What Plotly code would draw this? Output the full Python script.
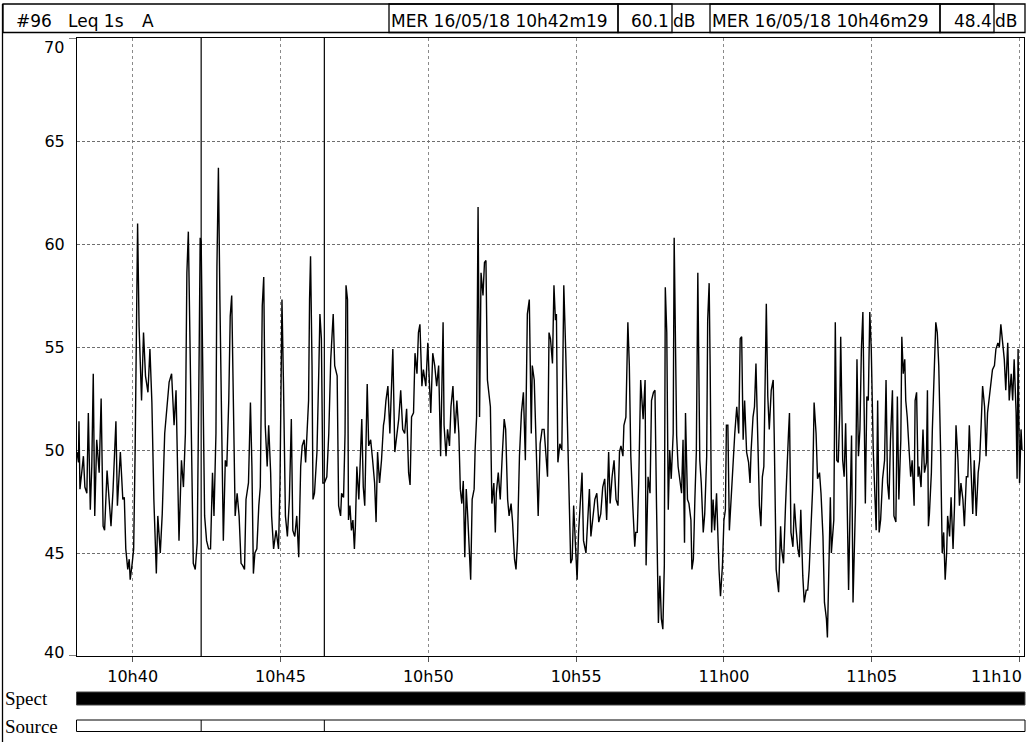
import plotly.graph_objects as go
import pandas as pd

# ---------------- data ----------------
BASE_TIME = "2018-05-16 10:40:00"
X_START = "2018-05-16 10:38:07"
X_END = "2018-05-16 11:10:09"

# seconds relative to 10h40m00
SECONDS = [
    -113, -110, -109, -107, -103, -100, -97, -93, -90, -86, -83, -80, -77, -73, -68, -64, -60, -57, -52, -48,
    -44, -40, -34, -31, -25, -20, -17, -14, -10, -7, -5, -1, 2, 5, 10, 13, 18, 22, 26, 31,
    35, 39, 43, 48, 51, 56, 60, 65, 69, 74, 79, 84, 88, 90, 94, 99, 103, 107, 110, 113,
    116, 119, 123, 127, 131, 135, 137, 139, 144, 146, 150, 154, 158, 162, 165, 169, 171, 174, 177, 180,
    184, 188, 191, 195, 198, 201, 205, 208, 212, 216, 220, 223, 227, 230, 235, 239, 242, 245, 248, 252,
    256, 259, 263, 266, 269, 273, 276, 280, 282, 286, 291, 296, 299, 303, 306, 310, 314, 318, 322, 325,
    329, 333, 337, 341, 344, 348, 351, 354, 357, 359, 361, 364, 366, 369, 374, 378, 380, 383, 386, 389,
    394, 398, 402, 407, 410,
    415, 418, 422, 424, 428, 431, 433, 436, 438, 441, 444, 447, 450, 452, 455, 459, 465, 468, 471, 476,
    479, 483, 487, 491, 494, 497, 501, 505, 509, 511, 514, 518, 522, 525, 528, 532, 536, 540, 544, 548,
    552, 556, 560, 563, 566, 570, 573, 577, 580, 583, 587, 590, 595, 599, 602, 605, 609, 613, 617, 621,
    625, 630, 632, 636, 639, 643, 646, 650, 654, 658, 662, 665, 668, 671, 674, 677, 680, 683, 686, 689,
    693, 695, 698, 701, 704, 707, 711, 714, 717, 720, 723, 726, 729, 733, 736, 738, 742, 746, 750, 754,
    757, 761, 764, 768, 771, 775, 778, 781, 785, 789, 793, 797, 801, 805, 809, 811, 815, 819, 823, 827,
    831, 835, 839, 842, 845, 848, 852, 855, 858, 860, 863, 867, 871, 875, 879, 882, 885, 889, 892, 895,
    899, 902, 905, 909, 912, 915, 920, 924, 927, 930, 934, 938, 942, 946, 950, 954, 958, 962, 966, 969,
    973, 977, 981, 985, 988, 991, 995, 997, 1001, 1005, 1008, 1011, 1015, 1019, 1021, 1024, 1027, 1031,
    1036, 1040, 1042, 1046, 1050, 1053, 1057, 1060, 1063, 1067, 1070, 1073, 1076, 1079, 1081, 1084, 1087, 1090, 1093, 1097,
    1099, 1102, 1104, 1107, 1110, 1114, 1117, 1120, 1122, 1126, 1129, 1133, 1135, 1138, 1141, 1144, 1147, 1151, 1154, 1158,
    1161, 1165, 1167, 1170, 1172, 1175, 1178, 1181, 1185, 1187, 1190, 1193, 1197, 1200, 1203, 1205, 1208, 1211, 1215, 1218,
    1222, 1226, 1230, 1233, 1236, 1239, 1242, 1246, 1250, 1253, 1255, 1259, 1262, 1265, 1269, 1272, 1275, 1278, 1281, 1284,
    1286, 1289, 1292, 1296, 1300, 1302, 1306, 1311, 1315, 1317, 1321, 1325, 1328, 1331, 1333, 1336, 1340, 1343, 1346, 1350,
    1353, 1356, 1360, 1363, 1367, 1370, 1373, 1377, 1380, 1383, 1387, 1390, 1394, 1397, 1401, 1404, 1408, 1410, 1413, 1416,
    1418, 1423, 1426, 1429, 1432, 1435, 1437, 1441, 1444, 1447, 1450, 1453, 1456, 1459, 1462, 1464, 1467, 1470, 1473, 1476,
    1479, 1482, 1485, 1487, 1490, 1493, 1496, 1499, 1503, 1506, 1509, 1512, 1515, 1518, 1522, 1526, 1529, 1532, 1535, 1538,
    1542, 1545, 1549, 1552, 1555, 1559, 1561, 1564, 1567, 1569, 1572, 1576, 1579, 1582, 1586, 1588, 1591, 1594, 1596, 1600,
    1604, 1607, 1611, 1613, 1615, 1617, 1621, 1623, 1626, 1630, 1633, 1636, 1640, 1643, 1646, 1649, 1652, 1654, 1658, 1661,
    1665, 1668, 1671, 1675, 1678, 1681, 1685, 1688, 1692, 1695, 1698, 1702, 1705, 1708, 1712, 1716, 1719, 1722, 1725, 1729,
    1732, 1735, 1739, 1742, 1745, 1749, 1752, 1756, 1759, 1762, 1766, 1769, 1772, 1776, 1779, 1783, 1786, 1789, 1793, 1795,
    1797, 1800, 1803, 1805,
]

LEQ_DB = [
    49.9, 49.4, 51.4, 48.1, 49.0, 49.7, 48.2, 47.9, 51.8, 47.1, 49.2, 53.7, 46.8, 50.5, 48.9, 52.5, 46.3, 46.1, 49.0, 47.6,
    46.3, 48.0, 51.4, 47.3, 49.9, 47.6, 47.7, 45.2, 44.2, 44.7, 43.7, 44.5, 45.2, 50.0, 61.0, 56.0, 52.4, 55.7, 53.6, 52.8,
    54.9, 52.3, 47.6, 44.0, 46.8, 45.0, 46.9, 50.8, 52.1, 53.3, 53.7, 51.2, 52.9, 49.7, 45.6, 49.5, 48.2, 50.8, 58.6, 60.6,
    55.7, 50.8, 44.5, 44.2, 45.5, 54.9, 60.3, 60.1, 49.2, 46.8, 45.6, 45.2, 45.2, 48.9, 46.8, 50.8, 58.9, 63.7, 57.3, 52.1,
    45.6, 49.5, 49.2, 52.4, 56.5, 57.5, 50.8, 46.8, 47.9, 46.8, 44.5, 44.4, 44.2, 47.6, 48.4, 52.3, 49.2, 44.0, 45.0, 45.2,
    47.3, 48.2, 57.0, 58.4, 51.2, 49.2, 51.2, 48.9, 46.8, 45.2, 46.1, 45.2, 48.4, 57.3, 53.3, 46.8, 45.8, 47.6, 51.5, 46.1,
    45.8, 46.8, 44.8, 49.2, 50.2, 50.5, 49.4, 50.8, 52.4, 57.3, 59.4, 54.1, 47.6, 47.9, 49.9, 54.1, 56.6, 55.4, 48.4, 48.4,
    48.7, 50.8, 54.4, 56.6, 54.1,
    53.6, 47.3, 46.8, 47.9, 47.7, 50.8, 58.0, 57.3, 46.6, 47.3, 46.1, 46.6, 45.2, 46.3, 49.2, 47.6, 51.5, 48.2, 47.3, 53.2,
    50.2, 50.5, 49.5, 48.4, 46.5, 49.9, 48.4, 49.5, 51.2, 51.5, 52.4, 53.1, 50.8, 53.4, 54.9, 49.9, 50.8, 51.5, 52.9, 51.0,
    50.8, 52.0, 48.9, 48.3, 51.6, 51.8, 54.7, 53.7, 55.7, 56.1, 53.1, 53.9, 53.1, 55.2, 53.4, 51.8, 54.7, 54.1, 53.1, 54.1,
    49.7, 56.2, 51.2, 49.7, 51.0, 50.2, 52.1, 53.1, 50.8, 52.4, 50.8, 48.1, 47.4, 48.5, 44.8, 48.1, 46.8, 45.3, 43.7, 47.6,
    48.1, 50.0, 51.6, 61.8, 51.6, 58.6, 57.5, 59.1, 59.2, 53.4, 52.8, 52.1, 47.4, 48.4, 46.0, 47.9, 48.9, 47.6, 49.7, 51.5,
    51.0, 47.6, 46.8, 47.4, 46.5, 44.7, 44.2, 45.6, 49.7, 51.8, 52.8, 49.5, 56.6, 57.3, 50.8, 54.1, 53.4, 49.5, 46.8, 50.3,
    51.0, 51.0, 49.4, 48.7, 55.7, 55.4, 54.2, 58.0, 56.3, 56.6, 49.4, 50.3, 50.0, 58.0, 54.7, 51.5, 48.6, 44.5, 44.7, 47.3,
    45.2, 43.7, 46.0, 47.6, 48.9, 45.6, 45.0, 46.8, 48.1, 45.8, 46.8, 47.6, 47.9, 46.5, 46.9, 48.2, 48.6, 46.6, 49.9, 47.4,
    48.7, 49.5, 47.6, 47.3, 49.9, 50.2, 49.7, 51.2, 51.6, 56.2, 54.1, 49.7, 47.3, 45.3, 46.0, 46.0, 48.4, 53.4,
    51.5, 53.4, 44.4, 48.7, 47.9, 52.4, 52.8, 52.9, 47.6, 41.6, 43.9, 41.8, 41.3, 44.4, 57.9, 55.7, 47.1, 50.0, 48.6, 50.8,
    60.3, 54.1, 50.7, 49.2, 48.7, 47.9, 50.5, 45.5, 51.8, 47.6, 47.4, 46.6, 44.2, 44.7, 47.6, 49.9, 58.6, 49.5, 48.4, 46.0,
    46.9, 49.7, 56.3, 58.1, 54.1, 46.0, 47.6, 46.1, 47.9, 46.0, 44.2, 42.9, 44.4, 46.6, 47.1, 51.2, 51.2, 46.1, 47.9, 49.4,
    50.8, 52.1, 50.8, 55.4, 55.5, 50.5, 52.4, 49.9, 49.4, 48.4, 49.9, 51.6, 52.1, 54.2, 50.5, 47.3, 46.3, 48.7, 49.2, 53.3,
    57.1, 52.6, 51.0, 52.9, 53.4, 50.8, 44.2, 43.1, 46.3, 45.2, 44.5, 47.3, 49.5, 50.8, 51.8, 46.0, 45.3, 47.4, 46.3, 45.2,
    44.8, 47.1, 43.9, 42.6, 43.2, 43.2, 44.2, 46.8, 48.1, 52.3, 50.8, 48.6, 48.9, 47.9, 45.8, 42.6, 41.8, 40.9, 45.0, 47.7,
    45.0, 46.6, 56.2, 49.5, 49.4, 51.8, 55.5, 49.5, 48.7, 51.3, 47.6, 43.2, 47.1, 50.7, 42.6, 45.0, 47.4, 54.4, 49.7, 51.0,
    54.9, 56.7, 50.2, 47.4, 52.6, 52.4, 56.7, 54.9, 50.0, 48.4, 46.1, 52.4, 46.0, 46.6, 48.6, 49.5, 53.4, 48.4, 47.6, 50.5,
    52.9, 46.8, 46.5, 52.6, 47.6, 50.5, 55.5, 53.7, 54.4, 52.4, 51.6, 49.9, 48.7, 49.5, 47.3, 52.4, 52.8, 48.7, 49.2, 48.2,
    51.0, 48.9, 49.4, 52.9, 46.3, 46.9, 48.9, 51.0, 53.7, 56.2, 55.7, 54.1, 49.7, 45.0, 46.0, 43.7, 45.0, 46.8, 45.8, 47.7,
    45.2, 47.3, 51.2, 49.5, 47.3, 48.4, 47.6, 46.3, 48.7, 48.7, 51.2, 48.9, 46.9, 49.5, 46.8, 48.9, 49.5, 51.2, 53.1, 52.1,
    49.7, 51.8, 52.6, 53.1, 53.9, 54.1, 54.9, 55.2, 55.0, 56.1, 55.2, 54.4, 52.9, 55.2, 52.4, 53.7, 52.4, 54.4, 51.8, 48.6,
    54.9, 48.4, 51.0, 50.0,
]

CURSOR_TIMES = ["2018-05-16 10:42:19", "2018-05-16 10:46:29"]
CURSOR_LABELS = ["MER 16/05/18 10h42m19", "MER 16/05/18 10h46m29"]
CURSOR_VALUES = [60.1, 48.4]
UNIT = "dB"

X_TICKS = ["2018-05-16 10:40", "2018-05-16 10:45", "2018-05-16 10:50", "2018-05-16 10:55",
           "2018-05-16 11:00", "2018-05-16 11:05", "2018-05-16 11:10"]
X_TICK_LABELS = ["10h40", "10h45", "10h50", "10h55", "11h00", "11h05", "11h10"]
Y_TICKS = [45, 50, 55, 60, 65]
Y_MIN, Y_MAX = 40, 70

TITLE_ID = "#96"
TITLE_METRIC = "Leq 1s"
TITLE_WEIGHT = "A"
ROW_LABELS = ["Spect", "Source"]

# ---------------- layout geometry (pixels) ----------------
W, H = 1027, 742
L, R, T, B = 77, 3, 38, 86
PW = W - L - R
PH = H - T - B
BOTTOM = H - B


def px(X):
    return (X - L) / PW


def py(Y):
    return (BOTTOM - Y) / PH


SANS = "DejaVu Sans"
SERIF = "Liberation Serif"

times = pd.Timestamp(BASE_TIME) + pd.to_timedelta(SECONDS, unit="s")

fig = go.Figure()
fig.add_trace(go.Scatter(
    x=times, y=LEQ_DB, mode="lines",
    line=dict(color="black", width=1.4),
    hoverinfo="skip", showlegend=False,
))

shapes = []
# header frame and outer left border
shapes.append(dict(type="rect", xref="paper", yref="paper",
                   x0=px(3), x1=px(1025), y0=py(32.5), y1=py(4),
                   line=dict(color="black", width=1.3)))
shapes.append(dict(type="line", xref="paper", yref="paper",
                   x0=px(2.5), x1=px(2.5), y0=py(742), y1=py(4),
                   line=dict(color="black", width=1.3)))
for x0, x1 in [(389, 618), (618, 672), (710, 940), (940, 994)]:
    shapes.append(dict(type="rect", xref="paper", yref="paper",
                       x0=px(x0), x1=px(x1), y0=py(32.5), y1=py(4),
                       line=dict(color="black", width=1.3)))

# Spect and Source bars
shapes.append(dict(type="rect", xref="paper", yref="paper",
                   x0=px(76.5), x1=px(1025), y0=py(705), y1=py(692),
                   fillcolor="black", line=dict(color="#444", width=1)))
shapes.append(dict(type="rect", xref="paper", yref="paper",
                   x0=px(76.5), x1=px(1025), y0=py(731.5), y1=py(720),
                   fillcolor="white", line=dict(color="black", width=1)))

# cursors (in plot and in Source bar)
for t in CURSOR_TIMES:
    shapes.append(dict(type="line", xref="x", yref="paper", x0=t, x1=t, y0=0, y1=1,
                       line=dict(color="black", width=1.2), layer="above"))
    shapes.append(dict(type="line", xref="x", yref="paper", x0=t, x1=t,
                       y0=py(731.5), y1=py(720),
                       line=dict(color="black", width=1)))

# small corner ticks at 70 and 40
for yv in (Y_MIN, Y_MAX):
    shapes.append(dict(type="line", xref="paper", yref="y", x0=px(69), x1=0, y0=yv, y1=yv,
                       line=dict(color="black", width=1)))

annotations = []


def txt(text, X, Y, anchor="left", size=17, family=SANS):
    annotations.append(dict(text=text, xref="paper", yref="paper", x=px(X), y=py(Y),
                            xanchor=anchor, yanchor="middle", showarrow=False,
                            font=dict(family=family, size=size, color="black")))


txt(TITLE_ID, 14, 21)
txt(TITLE_METRIC, 66, 21)
txt(TITLE_WEIGHT, 140, 21)
txt(CURSOR_LABELS[0], 389, 21)
txt(f"{CURSOR_VALUES[0]:.1f}", 671, 21, anchor="right")
txt(UNIT, 671, 21)
txt(CURSOR_LABELS[1], 710, 21)
txt(f"{CURSOR_VALUES[1]:.1f}", 994, 21, anchor="right")
txt(UNIT, 993, 21)
txt(ROW_LABELS[0], 3, 698, size=19, family=SERIF)
txt(ROW_LABELS[1], 3, 726, size=19, family=SERIF)

# 70 and 40 labels nudged inside like the original
annotations.append(dict(text=str(Y_MAX), xref="paper", yref="y", x=px(66), y=Y_MAX,
                        xanchor="right", yanchor="middle", yshift=-9, showarrow=False,
                        font=dict(family=SANS, size=16, color="black")))
annotations.append(dict(text=str(Y_MIN), xref="paper", yref="y", x=px(66), y=Y_MIN,
                        xanchor="right", yanchor="middle", yshift=4, showarrow=False,
                        font=dict(family=SANS, size=16, color="black")))

# last x label is right-aligned at the plot edge (as in the original)
annotations.append(dict(text=X_TICK_LABELS[-1], xref="paper", yref="paper", x=1, y=py(676),
                        xanchor="right", yanchor="middle", showarrow=False,
                        font=dict(family=SANS, size=16, color="black")))

fig.update_layout(
    width=W, height=H,
    margin=dict(l=L, r=R, t=T, b=B, pad=0),
    paper_bgcolor="white", plot_bgcolor="white",
    showlegend=False,
    shapes=shapes,
    annotations=annotations,
    xaxis=dict(
        type="date", range=[X_START, X_END],
        tickvals=X_TICKS, ticktext=X_TICK_LABELS[:-1] + [""],
        showgrid=True, gridcolor="#8a8a8a", griddash="dot", gridwidth=1,
        ticks="outside", ticklen=5, tickcolor="#555", tickwidth=1,
        ticklabelstandoff=1,
        showline=True, linecolor="black", linewidth=1, mirror=True,
        zeroline=False,
        tickfont=dict(family=SANS, size=16, color="black"),
    ),
    yaxis=dict(
        range=[Y_MIN, Y_MAX], tickvals=Y_TICKS,
        showgrid=True, gridcolor="#6e6e6e", griddash="3px,2px", gridwidth=1,
        ticks="", ticklabelstandoff=8,
        showline=True, linecolor="black", linewidth=1, mirror=True,
        zeroline=False,
        tickfont=dict(family=SANS, size=16, color="black"),
    ),
)

fig.write_html("out.html")
